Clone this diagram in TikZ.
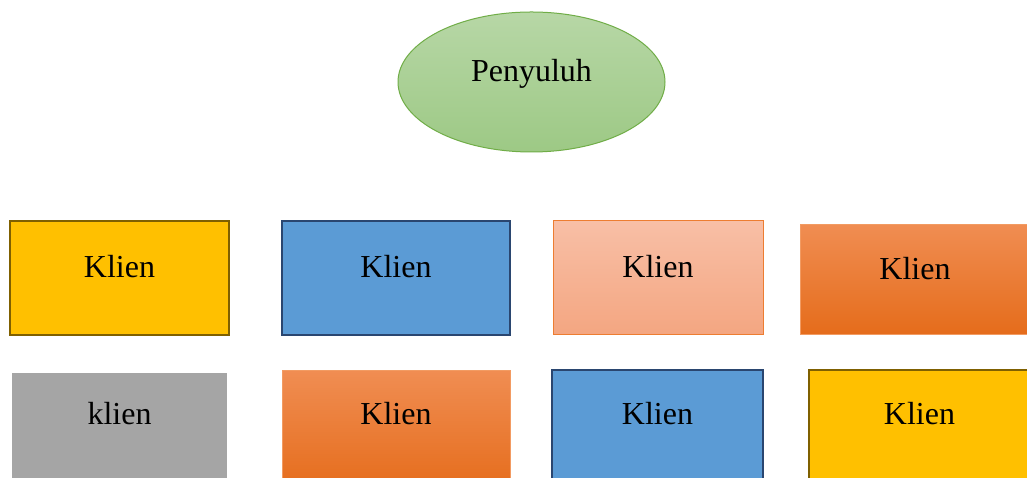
\documentclass[tikz,border=0pt]{standalone}
\usepackage{fontspec}
\setmainfont{Liberation Serif}
\usetikzlibrary{shapes.geometric}
\definecolor{cYellow}{HTML}{FFC000}
\definecolor{cYellowEdge}{HTML}{7F6000}
\definecolor{cBlue}{HTML}{5B9BD5}
\definecolor{cBlueEdge}{HTML}{2A4670}
\definecolor{cGray}{HTML}{A5A5A5}
\definecolor{cOrTop}{HTML}{F08D52}
\definecolor{cOrMid}{HTML}{F47D2C}
\definecolor{cOrBot}{HTML}{E56C1B}
\definecolor{cOrEdge}{HTML}{F29B62}
\definecolor{cSalTop}{HTML}{F8BFA6}
\definecolor{cSalBot}{HTML}{F4A681}
\definecolor{cSalEdge}{HTML}{ED7D31}
\definecolor{cGrTop}{HTML}{B7D7A6}
\definecolor{cGrBot}{HTML}{9DC985}
\definecolor{cGrEdge}{HTML}{70AD47}
\tikzset{
  txt/.style={font=\fontsize{32}{38}\selectfont, text height=21pt, text depth=#1, inner sep=0pt},
  yellowbox/.style={rectangle, fill=cYellow, draw=cYellowEdge, line width=2.4pt},
  bluebox/.style={rectangle, fill=cBlue, draw=cBlueEdge, line width=2.4pt},
  salmonbox/.style={rectangle, top color=cSalTop, bottom color=cSalBot, draw=cSalEdge, line width=1pt},
  orangebox/.style={rectangle, top color=cOrTop, middle color=cOrMid, bottom color=cOrBot, draw=cOrEdge, line width=1pt},
  graybox/.style={rectangle, fill=cGray},
  greenoval/.style={ellipse, inner sep=0pt, top color=cGrTop, bottom color=cGrBot, draw=cGrEdge, line width=1pt}
}
\begin{document}
\begin{tikzpicture}[x=1pt,y=1pt]
\useasboundingbox (0,0) rectangle (1027,478);
\clip (0,0) rectangle (1027,478);
\fill[white] (0,0) rectangle (1027,478);
% top oval
\node[greenoval, txt=21pt, minimum width=267pt, minimum height=140pt] (penyuluh) at (531.5,396) {Penyuluh};
% row 1
\node[yellowbox, txt=21pt, minimum width=219pt, minimum height=114pt] (k1) at (119.5,200) {Klien};
\node[bluebox, txt=21pt, minimum width=228pt, minimum height=114pt] (k2) at (396,200) {Klien};
\node[salmonbox, txt=21pt, minimum width=210pt, minimum height=114pt] (k3) at (658,200) {Klien};
\node[orangebox, txt=21pt, minimum width=230pt, minimum height=110pt] (k4) at (915,198) {Klien};
% row 2
\node[graybox, txt=36pt, minimum width=215pt, minimum height=119pt] (k5) at (119.5,45.5) {klien};
\node[orangebox, txt=34pt, minimum width=228pt, minimum height=121pt] (k6) at (396,46.5) {Klien};
\node[bluebox, txt=33pt, minimum width=211pt, minimum height=122pt] (k7) at (657.5,47) {Klien};
\node[yellowbox, txt=33pt, minimum width=221pt, minimum height=122pt] (k8) at (919.5,47) {Klien};
\end{tikzpicture}
\end{document}
